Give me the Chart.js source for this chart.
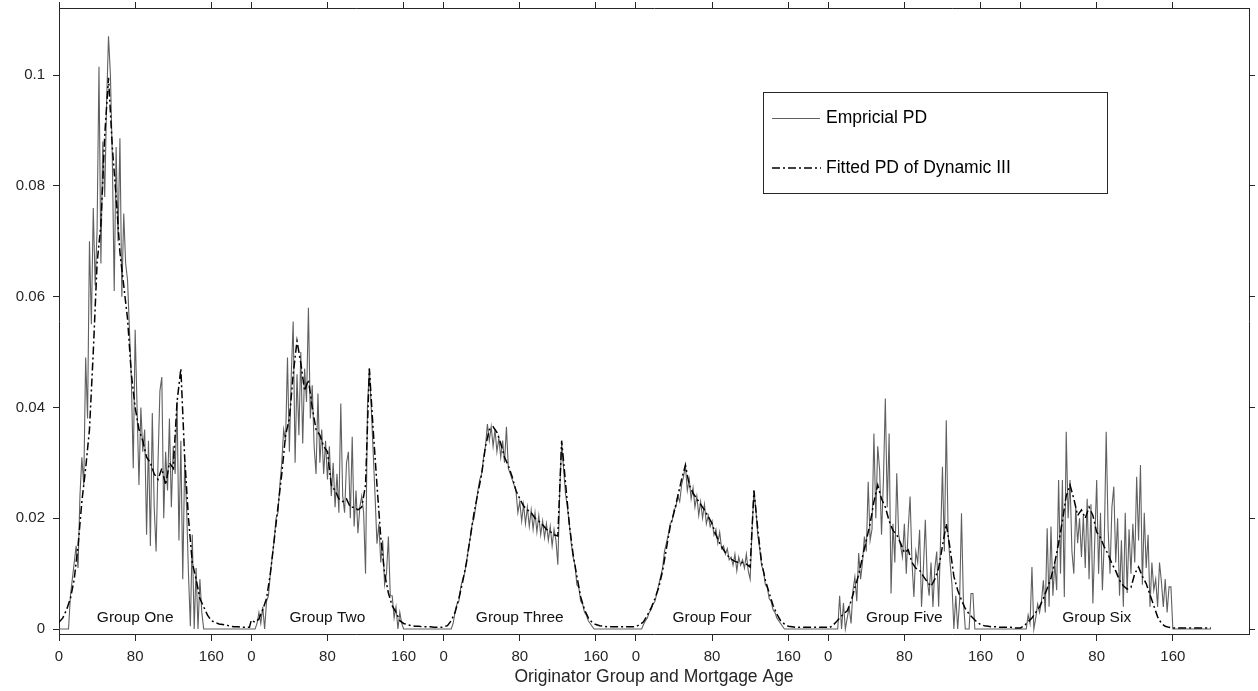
<!DOCTYPE html>
<html lang="en">
<head>
  <meta charset="UTF-8">
  <title>Empirical vs Fitted PD</title>
  <script src="https://cdn.jsdelivr.net/npm/chart.js"></script>
  <style>
    body { margin: 0; background: #fff; }
  </style>
</head>
<body>

<canvas id="myChart" width="1258" height="691"></canvas>

<script>
  // group names and axis ticks
  const groupNames = ['Group One', 'Group Two', 'Group Three', 'Group Four', 'Group Five', 'Group Six'];
  const ageTicks = [0, 80, 160];
  const yTicks = [0, 0.02, 0.04, 0.06, 0.08, 0.1];
  const groupSpan = 202;   // x-units between group origins
  const empStep = 2;       // empirical PD sampled every 2 months
  const fitStep = 4;       // fitted PD sampled every 4 months

  // empirical PD, month 0..200 step 2
  const empiricalOne = [
    0, 0, 0, 0, 0, 0,
    0.006, 0.009, 0.012, 0.015, 0.011, 0.024, 0.031, 0.026, 0.049, 0.038,
    0.070, 0.055, 0.076, 0.062, 0.072, 0.1015, 0.066, 0.088, 0.078, 0.095,
    0.107, 0.100, 0.085, 0.061, 0.087, 0.070, 0.0886, 0.060, 0.075, 0.066,
    0.063, 0.054, 0.045, 0.029, 0.054, 0.040, 0.026, 0.040, 0.032, 0.036,
    0.017, 0.034, 0.015, 0.039, 0.022, 0.014, 0.030, 0.043, 0.0455, 0.020,
    0.032, 0.025, 0.038, 0.022, 0.033, 0.028, 0.041, 0.016, 0.034, 0.009,
    0.030, 0.022, 0.010, 0.0005, 0.017, 0, 0.011, 0, 0.009, 0.003,
    0, 0, 0, 0, 0, 0, 0, 0, 0, 0,
    0, 0, 0, 0, 0, 0, 0, 0, 0, 0,
    0, 0, 0, 0, 0
  ];
  const empiricalTwo = [
    0, 0, 0, 0.001, 0.003, 0.001, 0.004, 0, 0.005, 0.006,
    0.010, 0.013, 0.016, 0.020, 0.021, 0.026, 0.030, 0.036, 0.034, 0.049,
    0.032, 0.046, 0.0555, 0.030, 0.046, 0.035, 0.050, 0.0335, 0.047, 0.041,
    0.058, 0.038, 0.044, 0.033, 0.028, 0.0425, 0.030, 0.036, 0.028, 0.034,
    0.027, 0.033, 0.024, 0.030, 0.022, 0.028, 0.021, 0.0407, 0.024, 0.021,
    0.030, 0.032, 0.020, 0.0347, 0.0185, 0.025, 0.0173, 0.022, 0.024, 0.021,
    0.010, 0.040, 0.047, 0.040, 0.032, 0.024, 0.0154, 0.019, 0.012, 0.016,
    0.008, 0.010, 0.0167, 0.006, 0.006, 0.002, 0.004, 0, 0.003, 0.001,
    0, 0, 0, 0, 0, 0, 0, 0, 0, 0,
    0, 0, 0, 0, 0, 0, 0, 0, 0, 0,
    0
  ];
  const empiricalThree = [
    0, 0, 0, 0, 0, 0.001, 0.003, 0.0045, 0.005, 0.0075,
    0.009, 0.010, 0.012, 0.0145, 0.0165, 0.019, 0.020, 0.0225, 0.025, 0.027,
    0.028, 0.031, 0.033, 0.037, 0.034, 0.0365, 0.033, 0.036, 0.032, 0.0345,
    0.031, 0.034, 0.030, 0.0365, 0.029, 0.028, 0.027, 0.026, 0.025, 0.021,
    0.023, 0.0195, 0.0225, 0.019, 0.022, 0.0185, 0.0215, 0.018, 0.021, 0.0175,
    0.0205, 0.017, 0.0195, 0.0165, 0.019, 0.016, 0.0185, 0.015, 0.018, 0.016,
    0.0116, 0.025, 0.0335, 0.029, 0.0245, 0.022, 0.019, 0.0155, 0.013, 0.0115,
    0.008, 0.0075, 0.005, 0.0045, 0.003, 0.0025, 0.0015, 0.001, 0.0005, 0,
    0, 0, 0, 0, 0, 0, 0, 0, 0, 0,
    0, 0, 0, 0, 0, 0, 0, 0, 0, 0,
    0
  ];
  const empiricalFour = [
    0, 0, 0, 0, 0.0008, 0.0015, 0.002, 0.003, 0.0035, 0.0045,
    0.005, 0.0065, 0.008, 0.0095, 0.011, 0.014, 0.0155, 0.017, 0.019, 0.0195,
    0.0215, 0.022, 0.024, 0.023, 0.026, 0.0275, 0.0295, 0.025, 0.027, 0.0235,
    0.0255, 0.022, 0.024, 0.0205, 0.023, 0.020, 0.0225, 0.019, 0.0205, 0.0185,
    0.0195, 0.017, 0.018, 0.0155, 0.0175, 0.0145, 0.015, 0.0135, 0.0145, 0.0125,
    0.013, 0.0115, 0.0135, 0.0105, 0.013, 0.0115, 0.0125, 0.011, 0.0135, 0.0105,
    0.009, 0.018, 0.025, 0.0215, 0.017, 0.0145, 0.0115, 0.0105, 0.008, 0.0075,
    0.0055, 0.005, 0.0035, 0.003, 0.002, 0.0015, 0.001, 0.0005, 0, 0,
    0, 0, 0, 0, 0, 0, 0, 0, 0, 0,
    0, 0, 0, 0, 0, 0, 0, 0, 0, 0,
    0
  ];
  const empiricalFive = [
    0, 0, 0, 0, 0, 0, 0.006, 0, 0.0047, 0,
    0.002, 0.004, 0.001, 0.007, 0.0094, 0.005, 0.0137, 0.009, 0.012, 0.0167,
    0.014, 0.0266, 0.016, 0.018, 0.0353, 0.020, 0.033, 0.0287, 0.017, 0.027,
    0.0416, 0.022, 0.0353, 0.0064, 0.019, 0.012, 0.0281, 0.017, 0.015, 0.013,
    0.019, 0.010, 0.018, 0.0239, 0.012, 0.0058, 0.014, 0.012, 0.0179, 0.004,
    0.011, 0.0197, 0.009, 0.006, 0.012, 0.004, 0.011, 0.014, 0.004, 0.016,
    0.0293, 0.014, 0.0377, 0.017, 0.012, 0.008, 0, 0.006, 0, 0.005,
    0.0209, 0.005, 0, 0, 0, 0.0064, 0.0064, 0, 0, 0,
    0, 0, 0, 0, 0, 0, 0, 0, 0, 0,
    0, 0, 0, 0, 0, 0, 0, 0, 0, 0,
    0
  ];
  const empiricalSix = [
    0, 0, 0, 0, 0.0025, 0.001, 0.0112, 0, 0.002, 0.0045,
    0.003, 0.005, 0.0088, 0.003, 0.0182, 0.004, 0.0185, 0.006, 0.012, 0.007,
    0.0269, 0.010, 0.0269, 0.0058, 0.0356, 0.020, 0.0269, 0.014, 0.010, 0.022,
    0.0155, 0.020, 0.013, 0.0205, 0.011, 0.0235, 0.009, 0.0225, 0.0046, 0.016,
    0.0269, 0.010, 0.021, 0.007, 0.016, 0.0356, 0.018, 0.010, 0.022, 0.0257,
    0.012, 0.020, 0.006, 0.016, 0.004, 0.021, 0.0065, 0.018, 0.010, 0.019,
    0.012, 0.0275, 0.016, 0.0296, 0.008, 0.021, 0.011, 0.017, 0.004, 0.012,
    0.007, 0.009, 0.004, 0.012, 0.0085, 0.004, 0.009, 0.003, 0.0076, 0.0076,
    0, 0, 0, 0, 0, 0, 0, 0, 0, 0,
    0, 0, 0, 0, 0, 0, 0, 0, 0, 0,
    0
  ];

  // fitted PD of Dynamic III, month 0..200 step 4
  const fittedOne = [
    0.0012, 0.002, 0.0035, 0.0055, 0.009, 0.015, 0.023, 0.029, 0.036, 0.050,
    0.066, 0.073, 0.089, 0.0995, 0.087, 0.078, 0.068, 0.062, 0.056, 0.046,
    0.040, 0.036, 0.034, 0.031, 0.030, 0.028, 0.027, 0.029, 0.026, 0.030,
    0.029, 0.041, 0.047, 0.031, 0.020, 0.012, 0.009, 0.0055, 0.004, 0.0025,
    0.0015, 0.0012, 0.0009, 0.0008, 0.0007, 0.0005, 0.0004, 0.0004, 0.0003, 0.0003,
    0.0003
  ];
  const fittedTwo = [
    0.0016, 0.0012, 0.0018, 0.0035, 0.0055, 0.010, 0.016, 0.022, 0.028, 0.035,
    0.038, 0.046, 0.052, 0.048, 0.043, 0.045, 0.040, 0.036, 0.035, 0.033,
    0.032, 0.026, 0.025, 0.0235, 0.023, 0.0235, 0.022, 0.022, 0.0215, 0.022,
    0.026, 0.047, 0.036, 0.026, 0.0165, 0.010, 0.0065, 0.0042, 0.003, 0.0015,
    0.001, 0.0008, 0.0006, 0.0005, 0.0005, 0.0004, 0.0004, 0.0004, 0.0003, 0.0003,
    0.0003
  ];
  const fittedThree = [
    0.0004, 0.0006, 0.0015, 0.003, 0.0055, 0.0085, 0.012, 0.0165, 0.021, 0.0245,
    0.028, 0.033, 0.036, 0.0365, 0.0355, 0.0335, 0.031, 0.0295, 0.0275, 0.025,
    0.0235, 0.0222, 0.0215, 0.021, 0.020, 0.0195, 0.0188, 0.018, 0.0176, 0.017,
    0.0168, 0.034, 0.0265, 0.019, 0.0135, 0.0095, 0.0058, 0.0035, 0.002, 0.0012,
    0.0008, 0.0006, 0.0005, 0.0004, 0.0004, 0.0004, 0.0004, 0.0004, 0.0004, 0.0004,
    0.0004
  ];
  const fittedFour = [
    0.0004, 0.0008, 0.0013, 0.0025, 0.0038, 0.0055, 0.0075, 0.0105, 0.0145, 0.0185,
    0.021, 0.024, 0.027, 0.0296, 0.026, 0.0245, 0.0235, 0.0225, 0.0215, 0.0203,
    0.019, 0.017, 0.0155, 0.0143, 0.0133, 0.0126, 0.0122, 0.012, 0.012, 0.0117,
    0.0112, 0.025, 0.018, 0.012, 0.0088, 0.0065, 0.0043, 0.0027, 0.0015, 0.0009,
    0.0005, 0.0004, 0.0003, 0.0003, 0.0003, 0.0003, 0.0003, 0.0003, 0.0003, 0.0003,
    0.0003
  ];
  const fittedFive = [
    0.0002, 0.0005, 0.0012, 0.002, 0.0027, 0.0033, 0.005, 0.0075, 0.0098, 0.013,
    0.016, 0.019, 0.023, 0.026, 0.0235, 0.022, 0.0195, 0.0178, 0.017, 0.0155,
    0.0138, 0.0143, 0.012, 0.011, 0.0106, 0.0095, 0.0085, 0.0077, 0.009, 0.011,
    0.015, 0.019, 0.0145, 0.0095, 0.007, 0.0052, 0.0037, 0.0027, 0.002, 0.0013,
    0.0008, 0.0006, 0.0005, 0.0004, 0.0004, 0.0003, 0.0003, 0.0003, 0.0003, 0.0002,
    0.0002
  ];
  const fittedSix = [
    0.0002, 0.0006, 0.0013, 0.002, 0.003, 0.004, 0.0055, 0.0073, 0.0092, 0.012,
    0.0155, 0.0195, 0.024, 0.026, 0.0235, 0.0205, 0.0215, 0.020, 0.022, 0.0205,
    0.0175, 0.0165, 0.0148, 0.0135, 0.0118, 0.0105, 0.0088, 0.0078, 0.0072, 0.0075,
    0.010, 0.0112, 0.0095, 0.0082, 0.0062, 0.0042, 0.0022, 0.001, 0.0005, 0.0003,
    0.0002, 0.0002, 0.0002, 0.0002, 0.0002, 0.0002, 0.0002, 0.0002, 0.0002, 0.0002,
    0.0002
  ];

  const empiricalGroups = [empiricalOne, empiricalTwo, empiricalThree, empiricalFour, empiricalFive, empiricalSix];
  const fittedGroups = [fittedOne, fittedTwo, fittedThree, fittedFour, fittedFive, fittedSix];

  // put all groups on one x axis, each group shifted by groupSpan
  function toPoints(groups, step) {
    const pts = [];
    groups.forEach((vals, g) => {
      vals.forEach((v, i) => pts.push({x: g * groupSpan + i * step, y: v}));
    });
    return pts;
  }

  const xTickValues = [];
  groupNames.forEach((_, g) => ageTicks.forEach(a => xTickValues.push(g * groupSpan + a)));

  const axisColor = '#262626';
  const fontFamily = "'Liberation Sans', Arial, sans-serif";

  const setXTicks = s => { s.ticks = xTickValues.map(v => ({value: v})); };
  const setYTicks = s => { s.ticks = yTicks.map(v => ({value: v})); };

  // group names and legend box drawn on top
  const overlay = {
    id: 'overlay',
    afterDraw(chart) {
      const {ctx, scales: {x, y}} = chart;
      ctx.save();
      ctx.fillStyle = '#111';
      ctx.font = '15.5px ' + fontFamily;
      ctx.textAlign = 'center';
      ctx.textBaseline = 'middle';
      groupNames.forEach((name, g) => {
        ctx.fillText(name, x.getPixelForValue(g * groupSpan + 80), y.getPixelForValue(0.002));
      });

      // legend
      ctx.fillStyle = '#fff';
      ctx.fillRect(763.5, 92.5, 344, 101);
      ctx.strokeStyle = axisColor;
      ctx.lineWidth = 1;
      ctx.strokeRect(763.5, 92.5, 344, 101);

      ctx.strokeStyle = '#606060';
      ctx.beginPath();
      ctx.moveTo(772, 118.5);
      ctx.lineTo(820, 118.5);
      ctx.stroke();

      ctx.strokeStyle = '#000';
      ctx.lineWidth = 1.5;
      ctx.setLineDash([8, 3, 2, 3]);
      ctx.beginPath();
      ctx.moveTo(772, 168);
      ctx.lineTo(821, 168);
      ctx.stroke();
      ctx.setLineDash([]);

      ctx.fillStyle = '#000';
      ctx.font = '17.5px ' + fontFamily;
      ctx.textAlign = 'left';
      ctx.fillText('Empricial PD', 826, 118);
      ctx.fillText('Fitted PD of Dynamic III', 826, 168);
      ctx.restore();
    }
  };

  const ctx = document.getElementById('myChart').getContext('2d');
  new Chart(ctx, {
    type: 'line',
    data: {
      datasets: [
        {
          label: 'Empricial PD',
          data: toPoints(empiricalGroups, empStep),
          borderColor: '#606060',
          borderWidth: 1.1,
          pointRadius: 0,
          tension: 0,
          fill: false,
          order: 2
        },
        {
          label: 'Fitted PD of Dynamic III',
          data: toPoints(fittedGroups, fitStep),
          borderColor: '#000',
          borderWidth: 1.5,
          borderDash: [8, 3, 2, 3],
          pointRadius: 0,
          tension: 0,
          fill: false,
          order: 1
        }
      ]
    },
    options: {
      responsive: false,
      animation: false,
      layout: {padding: 0},
      plugins: {
        legend: {display: false},
        tooltip: {enabled: false}
      },
      scales: {
        x: {
          type: 'linear',
          position: 'bottom',
          min: 0,
          max: 1250,
          afterBuildTicks: setXTicks,
          afterFit: s => { s.height = 57; s.paddingLeft = 0; s.paddingRight = 0; },
          ticks: {
            autoSkip: false,
            maxRotation: 0,
            padding: 7,
            color: axisColor,
            font: {family: fontFamily, size: 15},
            callback: v => String(v % groupSpan)
          },
          grid: {drawOnChartArea: false, tickLength: 7, color: axisColor},
          border: {display: true, color: axisColor},
          title: {
            display: true,
            text: 'Originator Group and Mortgage Age',
            color: axisColor,
            font: {family: fontFamily, size: 17.5},
            padding: {top: 0, bottom: 3.5}
          }
        },
        x2: {
          type: 'linear',
          position: 'top',
          min: 0,
          max: 1250,
          afterBuildTicks: setXTicks,
          afterFit: s => { s.height = 8; s.paddingLeft = 0; s.paddingRight = 0; },
          ticks: {display: false},
          grid: {drawOnChartArea: false, tickLength: 6, color: axisColor},
          border: {display: true, color: axisColor}
        },
        y: {
          type: 'linear',
          position: 'left',
          min: -0.0009,
          max: 0.1121,
          afterBuildTicks: setYTicks,
          afterFit: s => { s.width = 59; s.paddingTop = 0; s.paddingBottom = 0; },
          ticks: {
            padding: 8,
            color: axisColor,
            font: {family: fontFamily, size: 15},
            callback: v => String(v)
          },
          grid: {drawOnChartArea: false, tickLength: 6, color: axisColor},
          border: {display: true, color: axisColor}
        },
        y2: {
          type: 'linear',
          position: 'right',
          min: -0.0009,
          max: 0.1121,
          afterBuildTicks: setYTicks,
          afterFit: s => { s.width = 9; s.paddingTop = 0; s.paddingBottom = 0; },
          ticks: {display: false},
          grid: {drawOnChartArea: false, tickLength: 6, color: axisColor},
          border: {display: true, color: axisColor}
        }
      }
    },
    plugins: [overlay]
  });
</script>

</body>
</html>
